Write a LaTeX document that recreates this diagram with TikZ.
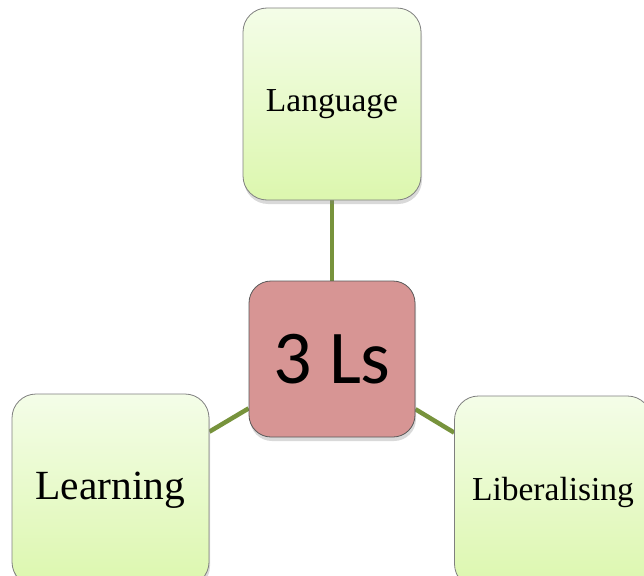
\documentclass[tikz,border=0pt]{standalone}
\usepackage{fontspec}
\setmainfont{Liberation Serif}
\newfontfamily\hubfont{Carlito}
\usetikzlibrary{shadows, backgrounds}

\definecolor{leafTop}{HTML}{F4FDE8}
\definecolor{leafBottom}{HTML}{DCF7AE}
\definecolor{hubFill}{HTML}{D79594}
\definecolor{linkGreen}{HTML}{77933C}
\definecolor{boxEdge}{HTML}{7F7F7F}

\begin{document}
\begin{tikzpicture}[x=1pt, y=-1pt,
    leaf/.style={draw=boxEdge, line width=0.8pt, rounded corners=24pt,
      top color=leafTop, bottom color=leafBottom,
      minimum width=178pt, minimum height=192pt, inner sep=0pt,
      drop shadow={shadow xshift=1pt, shadow yshift=-4pt, opacity=0.3},
      font=\fontsize{33.5}{40}\selectfont},
    hub/.style={draw=boxEdge!70!black, line width=0.8pt, rounded corners=22pt,
      fill=hubFill, minimum width=166pt, minimum height=156pt, inner sep=0pt,
      drop shadow={shadow xshift=1pt, shadow yshift=-4pt, opacity=0.3},
      font=\hubfont\fontsize{76}{80}\selectfont},
    link/.style={draw=linkGreen, line width=4.5pt}]
    \useasboundingbox (0,0) rectangle (644,575);
    % Centre
    \node[hub] (hub) at (332,359) {3 Ls};
    % Leaves
    \node[leaf] (lang) at (332,104) {Language};
    \node[leaf, minimum width=197pt, font=\fontsize{41.5}{48}\selectfont] (learn) at (110.5,490) {Learning};
    \node[leaf, minimum width=197pt] (lib) at (553,492) {Liberalising};
    % Links behind the boxes
    \begin{scope}[on background layer]
      \draw[link] (hub) -- (lang);
      \draw[link] (hub) -- (learn);
      \draw[link] (hub) -- (lib);
    \end{scope}
\end{tikzpicture}
\end{document}
